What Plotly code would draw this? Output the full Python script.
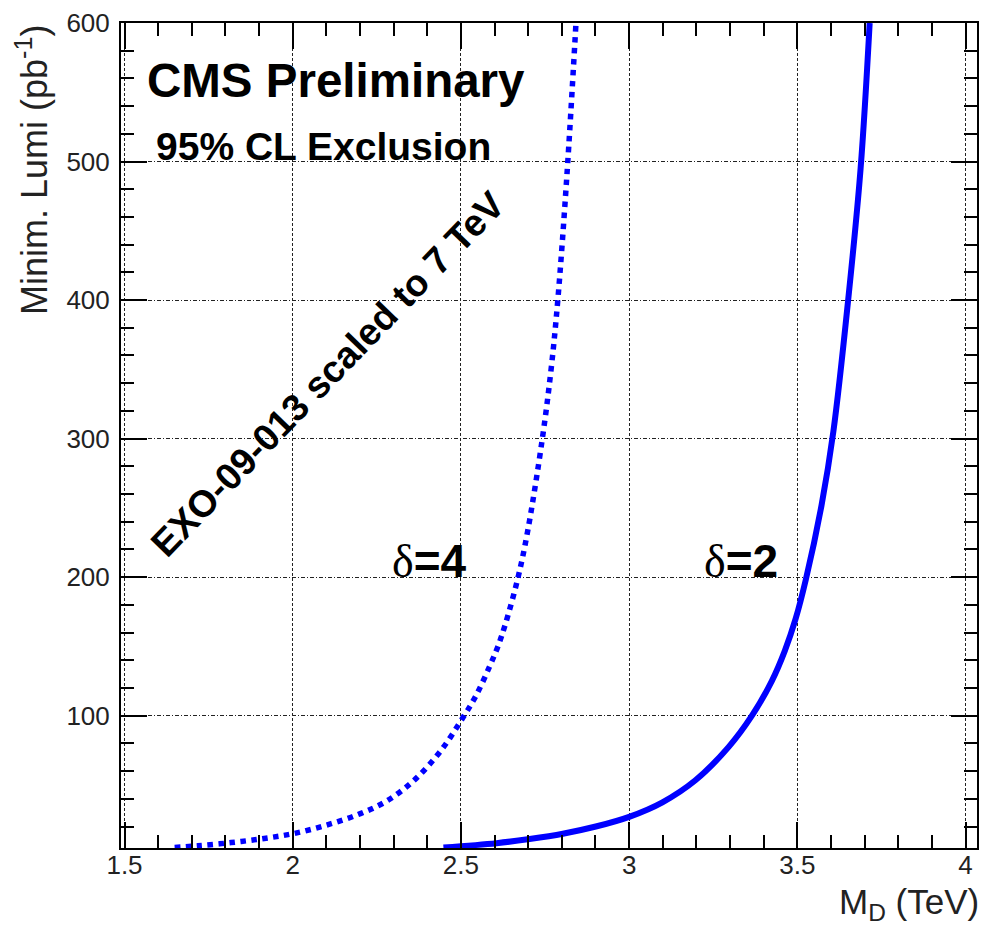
import plotly.graph_objects as go

# delta = 4 (dotted), EXO-09-013 scaled to 7 TeV
md_d4 = [1.649, 1.718, 1.817, 1.915, 2.004, 2.103, 2.201, 2.28, 2.359, 2.438, 2.507,
         2.546, 2.586, 2.61, 2.632, 2.670, 2.699, 2.742, 2.768, 2.788, 2.815, 2.842]
lumi_d4 = [4.9, 6.1, 8.4, 11.4, 15, 21.2, 29.3, 38.5, 53, 74, 99,
           115, 136, 150, 166, 200, 234, 300, 350, 400, 490, 600]

# delta = 2 (solid)
md_d2 = [2.448, 2.606, 2.704, 2.803, 2.901, 3.0, 3.099, 3.197, 3.296, 3.365, 3.424,
         3.463, 3.495, 3.525, 3.572, 3.607, 3.651, 3.688, 3.715]
lumi_d2 = [4.9, 8.0, 11.0, 14.8, 20, 27, 37.5, 53.4, 77.5, 100, 125,
           147, 170, 198, 252, 305, 400, 495, 600]

x_ticks = [1.5, 2, 2.5, 3, 3.5, 4]
x_ticklabels = ["1.5", "2", "2.5", "3", "3.5", "4"]
y_ticks = [100, 200, 300, 400, 500, 600]
y_ticklabels = ["100", "200", "300", "400", "500", "600"]

FONT = "Liberation Sans, Arial, Helvetica, sans-serif"
SERIF = "Liberation Serif, Times New Roman, serif"
BLUE = "#0000ff"

fig = go.Figure()
fig.add_trace(go.Scatter(x=md_d4, y=lumi_d4, mode="lines",
                         line=dict(color=BLUE, width=5.5, dash="dot", shape="spline", smoothing=1.0),
                         showlegend=False, hoverinfo="skip"))
fig.add_trace(go.Scatter(x=md_d2, y=lumi_d2, mode="lines",
                         line=dict(color=BLUE, width=6, shape="spline", smoothing=1.0),
                         showlegend=False, hoverinfo="skip"))

fig.update_layout(
    width=986, height=926,
    margin=dict(l=121, r=7, t=23, b=78),
    paper_bgcolor="white", plot_bgcolor="white",
    font=dict(family=FONT, color="black"),
    xaxis=dict(
        range=[1.4896, 4.034], showline=True, linecolor="black", linewidth=2,
        mirror="allticks", ticks="inside", ticklen=26, tickwidth=1.5, tickcolor="black",
        tickvals=x_ticks, ticktext=x_ticklabels,
        tickfont=dict(size=26, family=FONT, color="#222"),
        showgrid=True, gridcolor="#222", gridwidth=1, griddash="3px,2px",
        minor=dict(dtick=0.1, tick0=1.5, ticks="inside", ticklen=13, tickwidth=1.5,
                   tickcolor="black", showgrid=False),
        zeroline=False, ticklabelstandoff=-7,
    ),
    yaxis=dict(
        range=[4.5, 600], showline=True, linecolor="black", linewidth=2,
        mirror="allticks", ticks="inside", ticklen=26, tickwidth=1.5, tickcolor="black",
        tickvals=y_ticks, ticktext=y_ticklabels,
        tickfont=dict(size=26, family=FONT, color="#222"),
        showgrid=True, gridcolor="#222", gridwidth=1, griddash="4px,2px,1px,2px",
        minor=dict(dtick=20, tick0=0, ticks="inside", ticklen=13, tickwidth=1.5,
                   tickcolor="black", showgrid=False),
        zeroline=False, ticklabelstandoff=4,
    ),
)

ann = []
# axis titles
ann.append(dict(text="Minim. Lumi (pb<sup>-1</sup>)", xref="paper", yref="paper",
                x=-0.104, y=1.0, xanchor="center", yanchor="top", textangle=-90,
                showarrow=False, font=dict(size=36, family=FONT, color="#222")))
ann.append(dict(text="M<sub>D</sub> (TeV)", xref="paper", yref="paper",
                x=1.005, y=-0.039, xanchor="right", yanchor="top",
                showarrow=False, font=dict(size=35, family=FONT, color="#222")))
# labels
ann.append(dict(text="<b>CMS Preliminary</b>", xref="paper", yref="paper",
                x=(145 - 121) / 858, y=1 - (52 - 23) / 825, xanchor="left", yanchor="top",
                showarrow=False, font=dict(size=47.5, family=FONT, color="black")))
ann.append(dict(text="<b>95% CL Exclusion</b>", xref="paper", yref="paper",
                x=(154 - 121) / 858, y=1 - (123 - 23) / 825, xanchor="left", yanchor="top",
                showarrow=False, font=dict(size=39, family=FONT, color="black")))
ann.append(dict(text="<b>EXO-09-013 scaled to 7 TeV</b>", xref="paper", yref="paper",
                x=(328 - 121) / 858, y=1 - (374 - 23) / 825, xanchor="center", yanchor="middle",
                textangle=-46, showarrow=False, font=dict(size=37.5, family=FONT, color="black")))
ann.append(dict(text='<span style="font-family:' + SERIF + '">δ</span><b>=4</b>',
                xref="paper", yref="paper",
                x=(391 - 121) / 858, y=1 - (533 - 23) / 825, xanchor="left", yanchor="top",
                showarrow=False, font=dict(size=46, family=FONT, color="black")))
ann.append(dict(text='<span style="font-family:' + SERIF + '">δ</span><b>=2</b>',
                xref="paper", yref="paper",
                x=(703 - 121) / 858, y=1 - (533 - 23) / 825, xanchor="left", yanchor="top",
                showarrow=False, font=dict(size=46, family=FONT, color="black")))
fig.update_layout(annotations=ann)

fig.write_html("out.html")
